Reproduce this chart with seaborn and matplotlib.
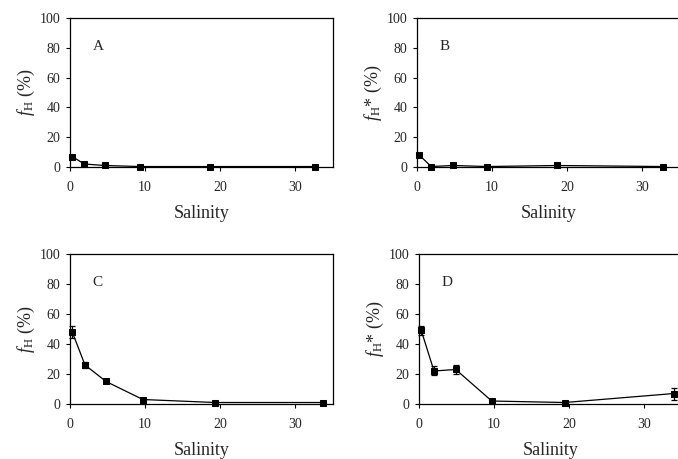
import matplotlib
matplotlib.use("Agg")
import matplotlib.pyplot as plt
import seaborn as sns
import pandas as pd

# Panel data (salinity vs percentage)
sal_a = [0.3, 1.9, 4.6, 9.3, 18.6, 32.6]
val_a = [7, 2, 1, 0.3, 0.3, 0.3]
err_a = [0, 0, 0, 0, 0, 0]

sal_b = [0.3, 1.9, 4.8, 9.4, 18.7, 32.8]
val_b = [8, 0.3, 1, 0.3, 1, 0.3]
err_b = [0, 0, 0, 0, 0, 0]

sal_c = [0.3, 2.0, 4.8, 9.7, 19.3, 33.7]
val_c = [48, 26, 15, 3, 1, 1]
err_c = [4, 2, 1, 0.5, 0, 0]

sal_d = [0.3, 2.0, 4.9, 9.7, 19.4, 34.0]
val_d = [49, 22, 23, 2, 1, 7]
err_d = [3, 3, 3, 0.5, 0, 4]

letters = ["A", "B", "C", "D"]
ylabels = [r"$f_{\rm H}$ (%)", r"$f_{\rm H}$* (%)",
           r"$f_{\rm H}$ (%)", r"$f_{\rm H}$* (%)"]
xticks = [0, 10, 20, 30]
yticks = [0, 20, 40, 60, 80, 100]

sns.set_theme(style="ticks")
plt.rcParams["font.family"] = ["Liberation Serif", "DejaVu Serif"]
plt.rcParams["mathtext.fontset"] = "custom"
plt.rcParams["mathtext.rm"] = "Liberation Serif"
plt.rcParams["mathtext.it"] = "Liberation Serif:italic"

fig = plt.figure(figsize=(6.78, 4.59), dpi=100)
positions = [
    [0.1032, 0.6362, 0.388, 0.3246],
    [0.615, 0.6362, 0.3872, 0.3246],
    [0.1032, 0.1198, 0.388, 0.327],
    [0.618, 0.1198, 0.3872, 0.327],
]
panels = [(sal_a, val_a, err_a), (sal_b, val_b, err_b),
          (sal_c, val_c, err_c), (sal_d, val_d, err_d)]

for pos, (sal, val, err), letter, ylab in zip(positions, panels, letters, ylabels):
    ax = fig.add_axes(pos)
    df = pd.DataFrame({"Salinity": sal, "val": val, "err": err})
    ax.errorbar(df["Salinity"], df["val"], yerr=df["err"], fmt="none",
                ecolor="black", elinewidth=0.9, capsize=2.5, capthick=0.9,
                clip_on=False, zorder=2)
    sns.lineplot(data=df, x="Salinity", y="val", ax=ax, color="black",
                 linewidth=0.9, marker="s", markersize=5,
                 markerfacecolor="black", markeredgecolor="black",
                 clip_on=False, zorder=3)
    ax.set_xlim(0, 35)
    ax.set_ylim(0, 100)
    ax.set_xticks(xticks)
    ax.set_yticks(yticks)
    ax.tick_params(labelsize=10, length=3, width=0.8, color="black",
                   direction="out")
    ax.tick_params(axis="x", pad=7)
    ax.tick_params(axis="y", pad=4)
    for sp in ax.spines.values():
        sp.set_color("black")
        sp.set_linewidth(0.9)
    ax.set_xlabel("Salinity", fontsize=13, labelpad=8)
    ax.set_ylabel(ylab, fontsize=13, labelpad=2)
    ax.text(0.106, 0.81, letter, transform=ax.transAxes, fontsize=11,
            ha="center", va="center")

fig.savefig("out.png", dpi=100)
